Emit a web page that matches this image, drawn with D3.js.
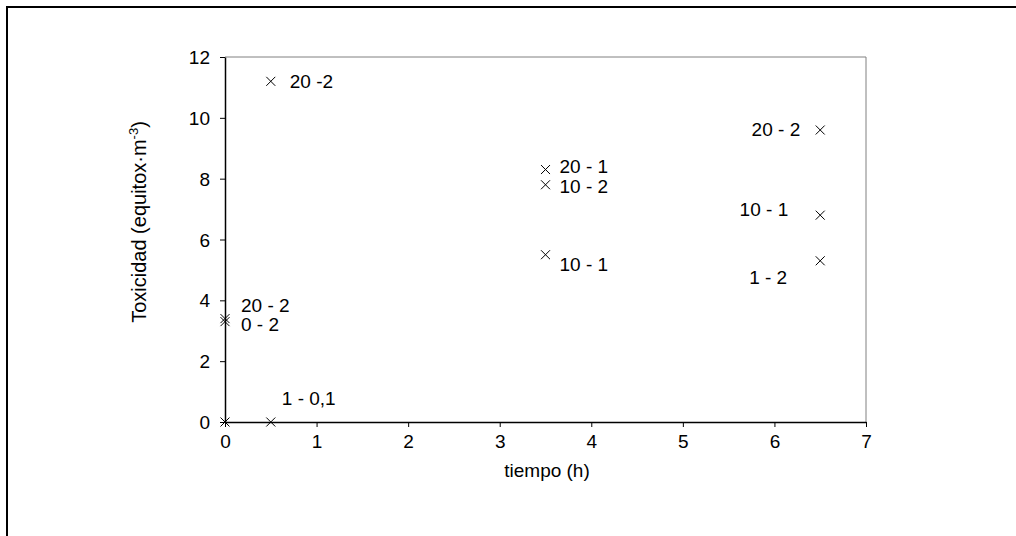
<!DOCTYPE html>
<html>
<head>
<meta charset="utf-8">
<script src="https://d3js.org/d3.v7.min.js"></script>
<style>
  body { margin: 0; background: #fff; }
  svg { display: block; font-family: "Liberation Sans", Arial, sans-serif; }
</style>
</head>
<body>
<div id="chart"></div>
<script>
// data
const tiempo    = [0, 0.5, 0, 0, 0.5, 3.5, 3.5, 3.5, 6.5, 6.5, 6.5];
const toxicidad = [0, 0, 3.4, 3.3, 11.2, 8.3, 7.8, 5.5, 9.6, 6.8, 5.3];
const etiquetas = ["", "1 - 0,1", "20 - 2", "0 - 2", "20 -2", "20 - 1", "10 - 2", "10 - 1", "20 - 2", "10 - 1", "1 - 2"];
// where each label sits relative to its marker (dx, dy, anchor)
const labelPlace = [
  [0, 0, "start"], [11, -17, "start"], [16, -7, "start"], [16, 9, "start"],
  [19, 7, "start"], [14, 3, "start"], [14, 8, "start"], [14, 16, "start"],
  [-20, 6, "end"], [-32, 1, "end"], [-33, 23, "end"]
];
const xTicks = [0, 1, 2, 3, 4, 5, 6, 7];
const yTicks = [0, 2, 4, 6, 8, 10, 12];

const W = 1016, H = 536;
const FS = 19;
const svg = d3.select("#chart").append("svg").attr("width", W).attr("height", H);

// outer frame (runs off the right/bottom edges)
svg.append("rect").attr("x", 7).attr("y", 7).attr("width", W + 10).attr("height", H + 10)
  .attr("fill", "none").attr("stroke", "#000").attr("stroke-width", 2);

const pLeft = 225, pRight = 866, pTop = 57, pBottom = 422;
const x = d3.scaleLinear().domain([0, 7]).range([pLeft, pRight]);
const y = d3.scaleLinear().domain([0, 12]).range([pBottom, pTop]);

// gray top/right border
svg.append("path").attr("d", `M${pLeft},${pTop}H${pRight}V${pBottom}`)
  .attr("fill", "none").attr("stroke", "#808080").attr("stroke-width", 1);

const xAxis = svg.append("g").attr("transform", `translate(0,${pBottom})`)
  .call(d3.axisBottom(x).tickValues(xTicks).tickFormat(d3.format("d"))
    .tickSize(5).tickSizeOuter(0).tickPadding(7));
const yAxis = svg.append("g").attr("transform", `translate(${pLeft},0)`)
  .call(d3.axisLeft(y).tickValues(yTicks).tickFormat(d3.format("d"))
    .tickSize(5).tickSizeOuter(0).tickPadding(10));

[xAxis, yAxis].forEach(g => {
  g.select(".domain").attr("stroke", "#000").attr("stroke-width", 1.5);
  g.selectAll(".tick line").attr("stroke", "#000");
  g.selectAll("text").attr("font-size", FS).attr("fill", "#000")
    .attr("font-family", "Liberation Sans, Arial, sans-serif");
});
xAxis.selectAll("text").attr("dy", "0.75em");
yAxis.selectAll("text").attr("dy", "0.35em");

// markers
const pts = tiempo.map((t, i) => ({ t, v: toxicidad[i], lab: etiquetas[i], pl: labelPlace[i] }));
const s = 4.5;
svg.append("g").selectAll("path").data(pts).join("path")
  .attr("d", d => {
    const cx = x(d.t), cy = y(d.v);
    return `M${cx - s},${cy - s}L${cx + s},${cy + s}M${cx - s},${cy + s}L${cx + s},${cy - s}`;
  })
  .attr("stroke", "#000").attr("stroke-width", 1).attr("fill", "none");

svg.append("g").selectAll("text").data(pts.filter(d => d.lab)).join("text")
  .attr("x", d => x(d.t) + d.pl[0])
  .attr("y", d => y(d.v) + d.pl[1])
  .attr("text-anchor", d => d.pl[2])
  .attr("font-size", FS)
  .text(d => d.lab);

// axis titles
svg.append("text").attr("x", 547).attr("y", 477)
  .attr("text-anchor", "middle").attr("font-size", FS).text("tiempo (h)");

const yl = svg.append("text")
  .attr("transform", "translate(146,222) rotate(-90)")
  .attr("text-anchor", "middle").attr("font-size", 20);
yl.append("tspan").text("Toxicidad (equitox·m");
yl.append("tspan").attr("dy", -8).attr("font-size", 13).text("-3");
yl.append("tspan").attr("dy", 8).text(")");
</script>
</body>
</html>
